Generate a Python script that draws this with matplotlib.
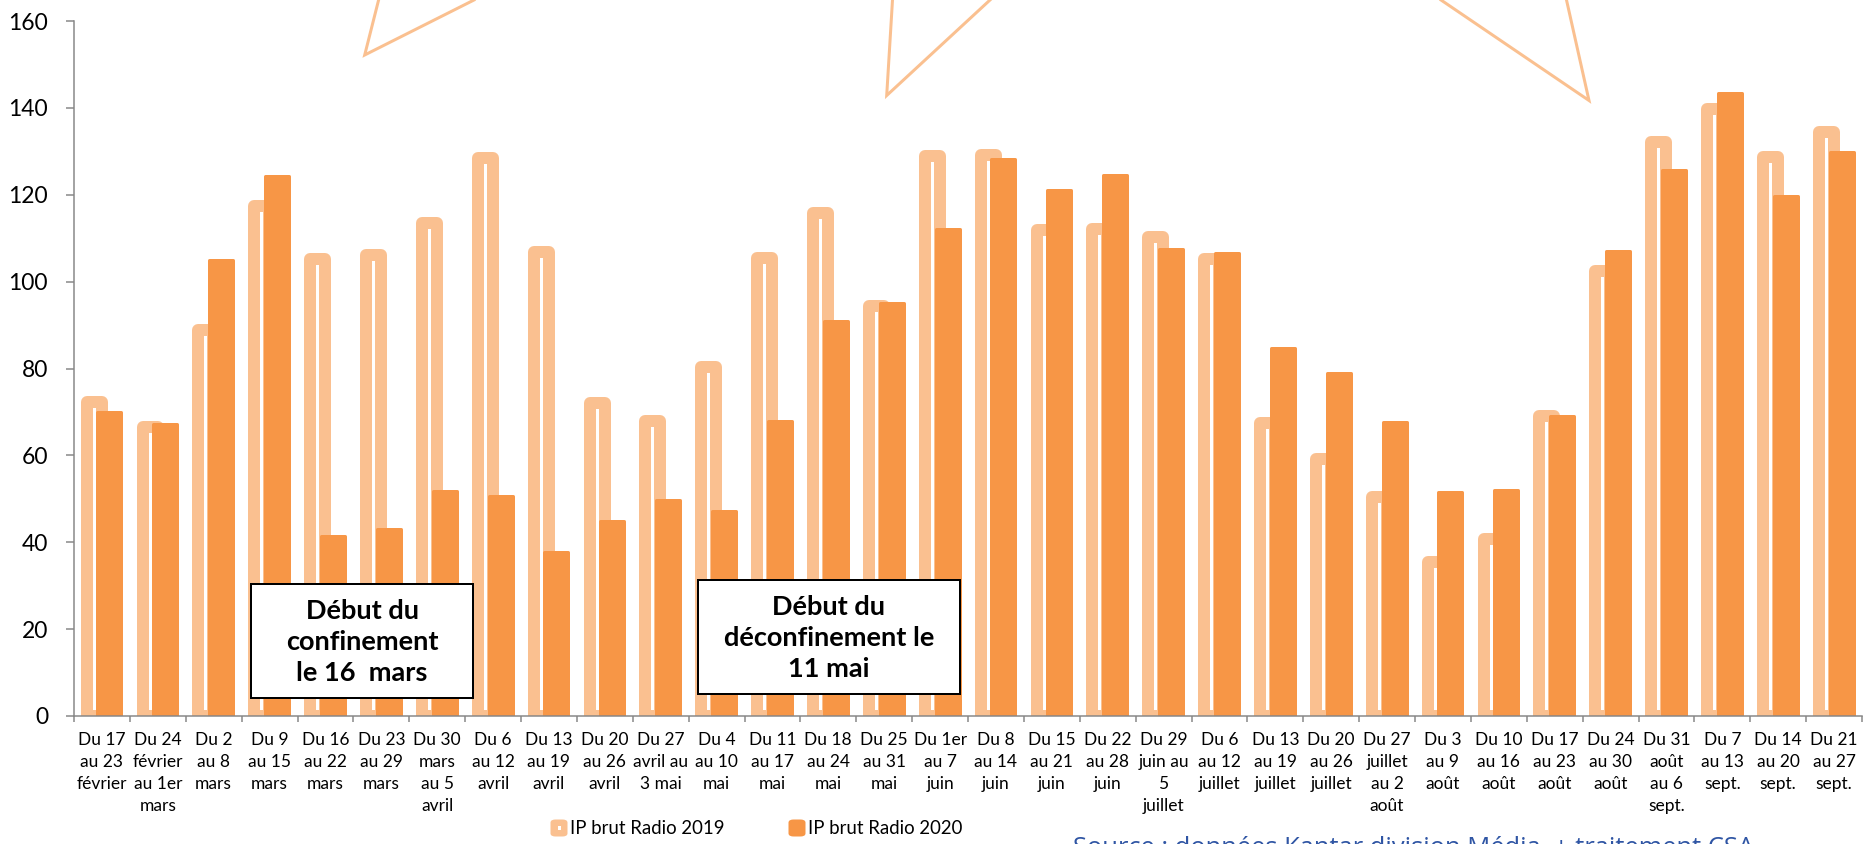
import matplotlib
matplotlib.use("Agg")
import matplotlib.pyplot as plt
from matplotlib.patches import Rectangle, FancyBboxPatch
from matplotlib.lines import Line2D
import numpy as np

# ---- data -------------------------------------------------------------
weeks = [
    "Du 17\nau 23\nfévrier", "Du 24\nfévrier\nau 1er\nmars", "Du 2\nau 8\nmars",
    "Du 9\nau 15\nmars", "Du 16\nau 22\nmars", "Du 23\nau 29\nmars",
    "Du 30\nmars\nau 5\navril", "Du 6\nau 12\navril", "Du 13\nau 19\navril",
    "Du 20\nau 26\navril", "Du 27\navril au\n3 mai", "Du 4\nau 10\nmai",
    "Du 11\nau 17\nmai", "Du 18\nau 24\nmai", "Du 25\nau 31\nmai",
    "Du 1er\nau 7\njuin", "Du 8\nau 14\njuin", "Du 15\nau 21\njuin",
    "Du 22\nau 28\njuin", "Du 29\njuin au\n5\njuillet", "Du 6\nau 12\njuillet",
    "Du 13\nau 19\njuillet", "Du 20\nau 26\njuillet", "Du 27\njuillet\nau 2\naoût",
    "Du 3\nau 9\naoût", "Du 10\nau 16\naoût", "Du 17\nau 23\naoût",
    "Du 24\nau 30\naoût", "Du 31\naoût\nau 6\nsept.", "Du 7\nau 13\nsept.",
    "Du 14\nau 20\nsept.", "Du 21\nau 27\nsept.",
]

ip_2019 = [72.3, 66.5, 88.9, 117.4, 105.2, 106.2, 113.5, 128.5, 106.9, 72.1,
           68.0, 80.4, 105.4, 115.9, 94.4, 128.9, 129.1, 111.8, 112.2, 110.2,
           105.2, 67.5, 59.1, 50.5, 35.5, 40.7, 69.1, 102.4, 132.2, 139.7,
           128.8, 134.4]

ip_2020 = [69.9, 67.2, 104.9, 124.3, 41.5, 43.1, 51.7, 50.7, 37.8, 44.9,
           49.8, 47.2, 67.9, 91.0, 95.1, 112.1, 128.2, 121.1, 124.6, 107.5,
           106.5, 84.8, 78.9, 67.7, 51.6, 52.0, 69.1, 107.1, 125.7, 143.4,
           119.8, 129.9]

y_ticks = [0, 20, 40, 60, 80, 100, 120, 140, 160]
series_names = ["IP brut Radio 2019", "IP brut Radio 2020"]

# ---- style ------------------------------------------------------------
W, H, DPI = 1864, 844, 100
PX = 72.0 / DPI            # one pixel in points
C19 = "#FAC090"
C20 = "#F79646"
AXIS = "#868686"
FONT = "Lato"


def fx(px):
    return px / W


def fy(py):
    return 1 - py / H


fig = plt.figure(figsize=(W / DPI, H / DPI), dpi=DPI)
ax = fig.add_axes([fx(74), fy(716), fx(1862) - fx(74), fy(21) - fy(716)])

x = np.arange(len(weeks))
cat_px = (1862 - 74) / len(weeks)

# 2019: hollow bars with a thick pale outline
lw19 = 12
b19 = ax.bar(x - 7.8 / cat_px, ip_2019, width=(27 - lw19) / cat_px,
             facecolor="white", edgecolor=C19, linewidth=lw19 * PX, zorder=2)
for p in b19:
    p.set_joinstyle("round")

# 2020: solid bars, slightly rounded corners
lw20 = 3
b20 = ax.bar(x + 7.5 / cat_px, ip_2020, width=(27 - lw20) / cat_px,
             facecolor=C20, edgecolor=C20, linewidth=lw20 * PX, zorder=3)
for p in b20:
    p.set_joinstyle("round")

ax.set_xlim(-0.5, len(weeks) - 0.5)
ax.set_ylim(0, 160)

for s in ("top", "right"):
    ax.spines[s].set_visible(False)
for s in ("left", "bottom"):
    ax.spines[s].set_color(AXIS)
    ax.spines[s].set_linewidth(1.5 * PX)
    ax.spines[s].set_zorder(4)

ax.set_yticks(y_ticks)
ax.set_yticklabels([str(v) for v in y_ticks], fontsize=16.5, family=FONT)
ax.tick_params(axis="y", direction="out", length=8 * PX, width=1.5 * PX,
               color=AXIS, pad=18 * PX)

ax.set_xticks(x)
ax.set_xticklabels(weeks, fontsize=12.5, family=FONT, linespacing=1.47)
ax.tick_params(axis="x", which="major", length=0, pad=16 * PX)
ax.set_xticks(np.arange(-0.5, len(weeks)), minor=True)
ax.tick_params(axis="x", which="minor", direction="out", length=6 * PX,
               width=1.5 * PX, color=AXIS)

# decorative star points along the top edge
star_color = C19
for pts in ([(378.6, 0), (364.7, 55), (474, 0)],
            [(892.5, 0), (886.7, 95.5), (990, 0)],
            [(1441, 0), (1589, 100.5), (1566.5, 0)]):
    xs = [fx(p[0]) for p in pts]
    ys = [fy(p[1]) for p in pts]
    fig.add_artist(Line2D(xs, ys, color=star_color, lw=3 * PX,
                          solid_joinstyle="miter", zorder=5))

# annotation boxes
boxes = [
    ((251, 584, 473, 698), "Début du\nconfinement\nle 16  mars"),
    ((698, 580, 960, 694), "Début du\ndéconfinement le\n11 mai"),
]
for (x0, y0, x1, y1), txt in boxes:
    fig.add_artist(Rectangle((fx(x0), fy(y1)), fx(x1) - fx(x0), fy(y0) - fy(y1),
                             facecolor="white", edgecolor="black",
                             linewidth=2 * PX, zorder=6))
    fig.text(fx((x0 + x1) / 2), fy((y0 + y1) / 2 + 1), txt, ha="center",
             va="center", fontsize=19.5, fontweight="bold", family=FONT,
             linespacing=1.35, zorder=7)

# legend
for x0, name, col in ((550, series_names[0], C19), (788, series_names[1], C20)):
    fig.add_artist(FancyBboxPatch((fx(x0 + 2), fy(835)), fx(14), fy(821) - fy(835),
                                  boxstyle="round,pad=0.0,rounding_size=0.002",
                                  facecolor=col, edgecolor=col,
                                  linewidth=3 * PX, zorder=6))
    if col == C19:
        fig.add_artist(Rectangle((fx(x0 + 7.5), fy(829.5)), fx(3), fy(826) - fy(829.5),
                                 facecolor="white", edgecolor="none", zorder=7))
    fig.text(fx(x0 + 20), fy(828), name, ha="left", va="center",
             fontsize=13.4, family=FONT)

# source line (runs off the bottom edge)
fig.text(fx(1073), fy(855), "Source : données Kantar division Média  + traitement CSA",
         ha="left", va="baseline", fontsize=18.4, family="Open Sans",
         color="#2F55A4")

fig.savefig("out.png", dpi=DPI)
